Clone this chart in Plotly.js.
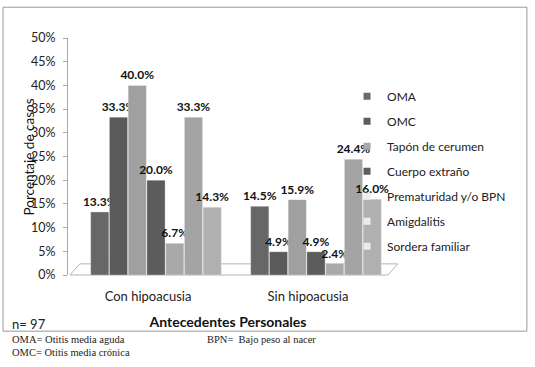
<!DOCTYPE html>
<html>
<head>
<meta charset="utf-8">
<script src="https://cdn.plot.ly/plotly-3.0.1.min.js"></script>
<style>
html,body{margin:0;padding:0;background:#fff;}
#chart{width:535px;height:367px;}
</style>
</head>
<body>
<div id="chart"></div>
<script>
const categories = ["Con hipoacusia", "Sin hipoacusia"];
const seriesNames = ["OMA", "OMC", "Tapón de cerumen", "Cuerpo extraño", "Prematuridad y/o BPN", "Amigdalitis", "Sordera familiar"];
const oma = [13.3, 14.5];
const omc = [33.3, 4.9];
const tapon = [40.0, 15.9];
const cuerpo = [20.0, 4.9];
const prematuridad = [6.7, 2.4];
const amigdalitis = [33.3, 24.4];
const sordera = [14.3, 16.0];
const seriesValues = [oma, omc, tapon, cuerpo, prematuridad, amigdalitis, sordera];
const seriesColors = ["#676767", "#5a5a5a", "#a0a0a0", "#5c5c5c", "#a9a9a9", "#a4a4a4", "#b0b0b0"];
const legendColors = ["#6a6a6a", "#5e5e5e", "#a8a8a8", "#5e5e5e", "#ececec", "#ececec", "#ececec"];
const yTicks = [0, 5, 10, 15, 20, 25, 30, 35, 40, 45, 50];

const font = "Lato, 'Open Sans', sans-serif";

const barTraces = seriesNames.map((name, i) => ({
  type: "bar",
  name: name,
  showlegend: false,
  x: categories,
  y: seriesValues[i],
  marker: {color: seriesColors[i], line: {color: "rgba(255,255,255,0.5)", width: 0.6}},
  text: seriesValues[i].map(v => v.toFixed(1) + "%"),
  textposition: "outside",
  constraintext: "none",
  textfont: {family: font, size: 12, color: "#111", weight: "bold"},
  cliponaxis: false,
  hoverinfo: "skip"
}));

// legend entries (small square keys, as in the original)
const legendTraces = seriesNames.map((name, i) => ({
  type: "scatter",
  mode: "markers",
  name: name,
  legendgroup: "g" + i,
  x: [null],
  y: [null],
  marker: {symbol: "square", size: 7, color: legendColors[i]},
  hoverinfo: "skip"
}));

const layout = {
  width: 535,
  height: 367,
  paper_bgcolor: "#fff",
  plot_bgcolor: "rgba(0,0,0,0)",
  margin: {l: 68, r: 147, t: 38, b: 92},
  barmode: "group",
  bargap: 0.18,
  bargroupgap: 0.03,
  showlegend: true,
  font: {family: font, size: 12, color: "#222"},
  xaxis: {
    type: "category",
    range: [-0.55, 1.45],
    showline: false,
    showgrid: false,
    zeroline: false,
    ticks: "",
    ticklabelshift: -8,
    tickfont: {family: font, size: 13, color: "#222"},
    ticklabelstandoff: 12,
    title: {text: "<b>Antecedentes Personales</b>", font: {family: font, size: 14, color: "#111"}, standoff: 14}
  },
  yaxis: {
    range: [0, 50],
    tickvals: yTicks,
    ticktext: yTicks.map(v => v + "%"),
    showline: true,
    linecolor: "#a8a8a8",
    linewidth: 1,
    ticks: "outside",
    ticklen: 4,
    tickcolor: "#a8a8a8",
    showgrid: false,
    zeroline: false,
    ticklabelstandoff: 5,
    tickfont: {family: font, size: 12.5, color: "#222"}
  },
  legend: {
    x: 0.872, xanchor: "left",
    y: 0.815, yanchor: "top",
    traceorder: "grouped",
    tracegroupgap: 6,
    font: {family: font, size: 12, color: "#222"},
    bgcolor: "rgba(0,0,0,0)"
  },
  shapes: [
    {type: "rect", xref: "paper", yref: "paper", x0: -0.203, x1: 1.434, y0: -0.237, y1: 1.13,
     line: {color: "#999", width: 1}, fillcolor: "rgba(0,0,0,0)", layer: "below"},
    {type: "path", xref: "paper", yref: "paper",
     path: "M 0.006,0 L 1,0 L 1.031,0.047 L 0.037,0.047 Z",
     line: {color: "#b5b5b5", width: 1}, fillcolor: "rgba(0,0,0,0)", layer: "below"}
  ],
  annotations: [
    {xref: "paper", yref: "paper", x: -0.122, y: 0.5, xanchor: "center", yanchor: "middle",
     textangle: -90, text: "Porcentaje de casos", showarrow: false,
     font: {family: font, size: 13.5, color: "#111"}},
    {xref: "paper", yref: "paper", x: -0.181, y: -0.206, xanchor: "left", yanchor: "middle",
     text: "n= 97", showarrow: false, font: {family: font, size: 13, color: "#222"}},
    {xref: "paper", yref: "paper", x: -0.181, y: -0.274, xanchor: "left", yanchor: "middle",
     text: "OMA= Otitis media aguda", showarrow: false,
     font: {family: "'Liberation Serif', 'DejaVu Serif', serif", size: 10.5, color: "#222"}},
    {xref: "paper", yref: "paper", x: -0.181, y: -0.325, xanchor: "left", yanchor: "middle",
     text: "OMC= Otitis media crónica", showarrow: false,
     font: {family: "'Liberation Serif', 'DejaVu Serif', serif", size: 10.5, color: "#222"}},
    {xref: "paper", yref: "paper", x: 0.428, y: -0.274, xanchor: "left", yanchor: "middle",
     text: "BPN=  Bajo peso al nacer", showarrow: false,
     font: {family: "'Liberation Serif', 'DejaVu Serif', serif", size: 10.5, color: "#222"}}
  ]
};

Plotly.newPlot("chart", barTraces.concat(legendTraces), layout, {displayModeBar: false, staticPlot: true});
</script>
</body>
</html>
